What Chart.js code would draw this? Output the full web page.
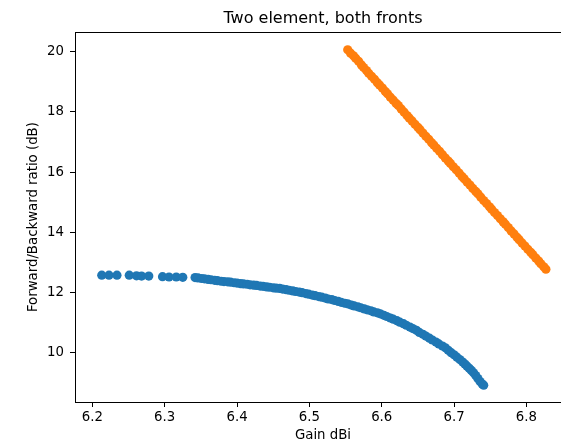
<!DOCTYPE html>
<html>
<head>
<meta charset="utf-8">
<title>Two element, both fronts</title>
<script src="https://cdn.jsdelivr.net/npm/chart.js@4"></script>
<style>
    body { margin: 0; background: #fff; overflow: hidden; }
    /* a bit wider than the window: the right spine falls just off the picture */
    #wrap { width: 571px; height: 444px; }
</style>
</head>
<body>
<div id="wrap"><canvas id="frontChart"></canvas></div>
<script>
// Gain (dBi) and F/B ratio (dB)
const blueGain = [
    6.213, 6.223, 6.234, 6.251, 6.261, 6.268, 6.278, 6.297, 6.306, 6.316, 6.325,
    6.342, 6.346, 6.351, 6.355, 6.360, 6.364, 6.369, 6.373, 6.378, 6.382, 6.387,
    6.391, 6.396, 6.400, 6.405, 6.409, 6.414, 6.418, 6.423, 6.427, 6.432, 6.436,
    6.441, 6.445, 6.450, 6.454, 6.459, 6.463, 6.468, 6.472, 6.477, 6.481, 6.486,
    6.490, 6.495, 6.499, 6.504, 6.508, 6.513, 6.517, 6.522, 6.526, 6.531, 6.535,
    6.540, 6.544, 6.549, 6.553, 6.558, 6.562, 6.567, 6.571, 6.576, 6.580, 6.585,
    6.589, 6.594, 6.598, 6.603, 6.607, 6.612, 6.616, 6.621, 6.625, 6.630, 6.634,
    6.639, 6.643, 6.648, 6.652, 6.657, 6.661, 6.666, 6.670, 6.675, 6.679, 6.684,
    6.688, 6.692, 6.696, 6.700, 6.704, 6.708, 6.712, 6.715, 6.718, 6.721, 6.724,
    6.727, 6.730, 6.733, 6.736, 6.739, 6.741
];
const blueRatio = [
    12.58, 12.58, 12.58, 12.58, 12.56, 12.55, 12.55, 12.53, 12.52, 12.52, 12.51,
    12.50, 12.49, 12.47, 12.46, 12.44, 12.43, 12.41, 12.40, 12.38, 12.37, 12.36,
    12.35, 12.33, 12.32, 12.30, 12.29, 12.28, 12.26, 12.25, 12.24, 12.22, 12.21,
    12.19, 12.18, 12.16, 12.15, 12.14, 12.12, 12.10, 12.08, 12.06, 12.04, 12.02,
    12.00, 11.97, 11.95, 11.92, 11.90, 11.87, 11.85, 11.82, 11.79, 11.77, 11.74,
    11.71, 11.68, 11.65, 11.63, 11.59, 11.56, 11.53, 11.50, 11.46, 11.43, 11.40,
    11.36, 11.33, 11.30, 11.25, 11.21, 11.16, 11.12, 11.07, 11.02, 10.97, 10.92,
    10.86, 10.81, 10.75, 10.68, 10.62, 10.56, 10.49, 10.43, 10.36, 10.30, 10.23,
    10.17, 10.09, 10.01, 9.94, 9.86, 9.78, 9.70, 9.63, 9.56, 9.49, 9.42,
    9.34, 9.25, 9.15, 9.05, 8.97, 8.93
];
const orangeGain = [
    6.553, 6.557, 6.561, 6.564, 6.568, 6.572, 6.575, 6.579, 6.582, 6.586, 6.590,
    6.594, 6.597, 6.601, 6.605, 6.608, 6.612, 6.616, 6.620, 6.623, 6.627, 6.631,
    6.635, 6.638, 6.642, 6.646, 6.650, 6.653, 6.657, 6.661, 6.665, 6.669, 6.672,
    6.676, 6.680, 6.684, 6.688, 6.692, 6.695, 6.699, 6.703, 6.707, 6.711, 6.714,
    6.718, 6.722, 6.726, 6.730, 6.733, 6.737, 6.741, 6.745, 6.749, 6.752, 6.756,
    6.760, 6.764, 6.768, 6.771, 6.775, 6.779, 6.783, 6.787, 6.790, 6.794, 6.798,
    6.802, 6.806, 6.809, 6.813, 6.817, 6.820, 6.824, 6.827
];
const orangeRatio = [
    20.06, 19.95, 19.86, 19.78, 19.68, 19.56, 19.47, 19.37, 19.28, 19.18, 19.08,
    18.97, 18.89, 18.79, 18.68, 18.60, 18.49, 18.39, 18.28, 18.21, 18.10, 17.99,
    17.88, 17.80, 17.70, 17.59, 17.49, 17.41, 17.30, 17.19, 17.09, 16.98, 16.90,
    16.79, 16.69, 16.58, 16.47, 16.37, 16.29, 16.18, 16.08, 15.97, 15.86, 15.78,
    15.67, 15.57, 15.46, 15.36, 15.28, 15.17, 15.06, 14.96, 14.85, 14.77, 14.66,
    14.56, 14.45, 14.35, 14.27, 14.16, 14.05, 13.95, 13.84, 13.76, 13.65, 13.55,
    13.44, 13.34, 13.26, 13.15, 13.05, 12.96, 12.86, 12.78
];
const xTicks = [6.2, 6.3, 6.4, 6.5, 6.6, 6.7, 6.8];
const yTicks = [10, 12, 14, 16, 18, 20];

document.addEventListener('DOMContentLoaded', function () {
    const font = 'DejaVu Sans';
    Chart.defaults.color = '#000';
    Chart.defaults.font.family = font;

    const toPoints = (xs, ys) => xs.map((x, i) => ({ x: x, y: ys[i] }));

    // top spine, matplotlib style box
    const frame = {
        id: 'frame',
        afterDraw(chart) {
            const { ctx, chartArea } = chart;
            ctx.save();
            ctx.strokeStyle = '#000';
            ctx.lineWidth = 1;
            ctx.beginPath();
            ctx.moveTo(chartArea.left, Math.round(chartArea.top) + 0.5);
            ctx.lineTo(chartArea.right, Math.round(chartArea.top) + 0.5);
            ctx.stroke();
            ctx.restore();
        }
    };

    const axisStyle = {
        grid: { drawOnChartArea: false, drawTicks: true, tickLength: 5, color: '#000' },
        border: { display: true, color: '#000', width: 1 }
    };

    const ctx = document.getElementById('frontChart').getContext('2d');
    new Chart(ctx, {
        type: 'scatter',
        data: {
            datasets: [{
                label: 'front 1',
                data: toPoints(blueGain, blueRatio),
                backgroundColor: '#1f77b4',
                borderWidth: 0,
                pointRadius: 4.6
            }, {
                label: 'front 2',
                data: toPoints(orangeGain, orangeRatio),
                backgroundColor: '#ff7f0e',
                borderWidth: 0,
                pointRadius: 4.6
            }]
        },
        options: {
            responsive: true,
            maintainAspectRatio: false,
            animation: false,
            layout: { padding: 0, autoPadding: false },
            plugins: {
                legend: { display: false },
                tooltip: { enabled: false },
                title: {
                    display: true,
                    text: 'Two element, both fronts',
                    fullSize: false,
                    color: '#000',
                    font: { family: font, size: 16, weight: 'normal' },
                    padding: { top: 9, bottom: 4 }
                }
            },
            scales: {
                x: {
                    ...axisStyle,
                    min: 6.176,
                    max: 6.8617,
                    afterBuildTicks: scale => { scale.ticks = xTicks.map(v => ({ value: v })); },
                    afterFit: scale => { scale.height = 42; },
                    ticks: {
                        padding: 3,
                        maxRotation: 0,
                        font: { size: 13.3 },
                        callback: v => v.toFixed(1)
                    },
                    title: {
                        display: true,
                        text: 'Gain dBi',
                        font: { size: 13.3 },
                        padding: { top: 0, bottom: 0 }
                    }
                },
                y: {
                    ...axisStyle,
                    min: 8.372,
                    max: 20.645,
                    afterBuildTicks: scale => { scale.ticks = yTicks.map(v => ({ value: v })); },
                    afterFit: scale => { scale.width = 75; },
                    ticks: {
                        padding: 6,
                        font: { size: 13.3 },
                        callback: v => String(v)
                    },
                    title: {
                        display: true,
                        text: 'Forward/Backward ratio (dB)',
                        font: { size: 13.3 },
                        padding: { top: 25.5, bottom: 0 }
                    }
                }
            }
        },
        plugins: [frame]
    });
});
</script>
</body>
</html>
